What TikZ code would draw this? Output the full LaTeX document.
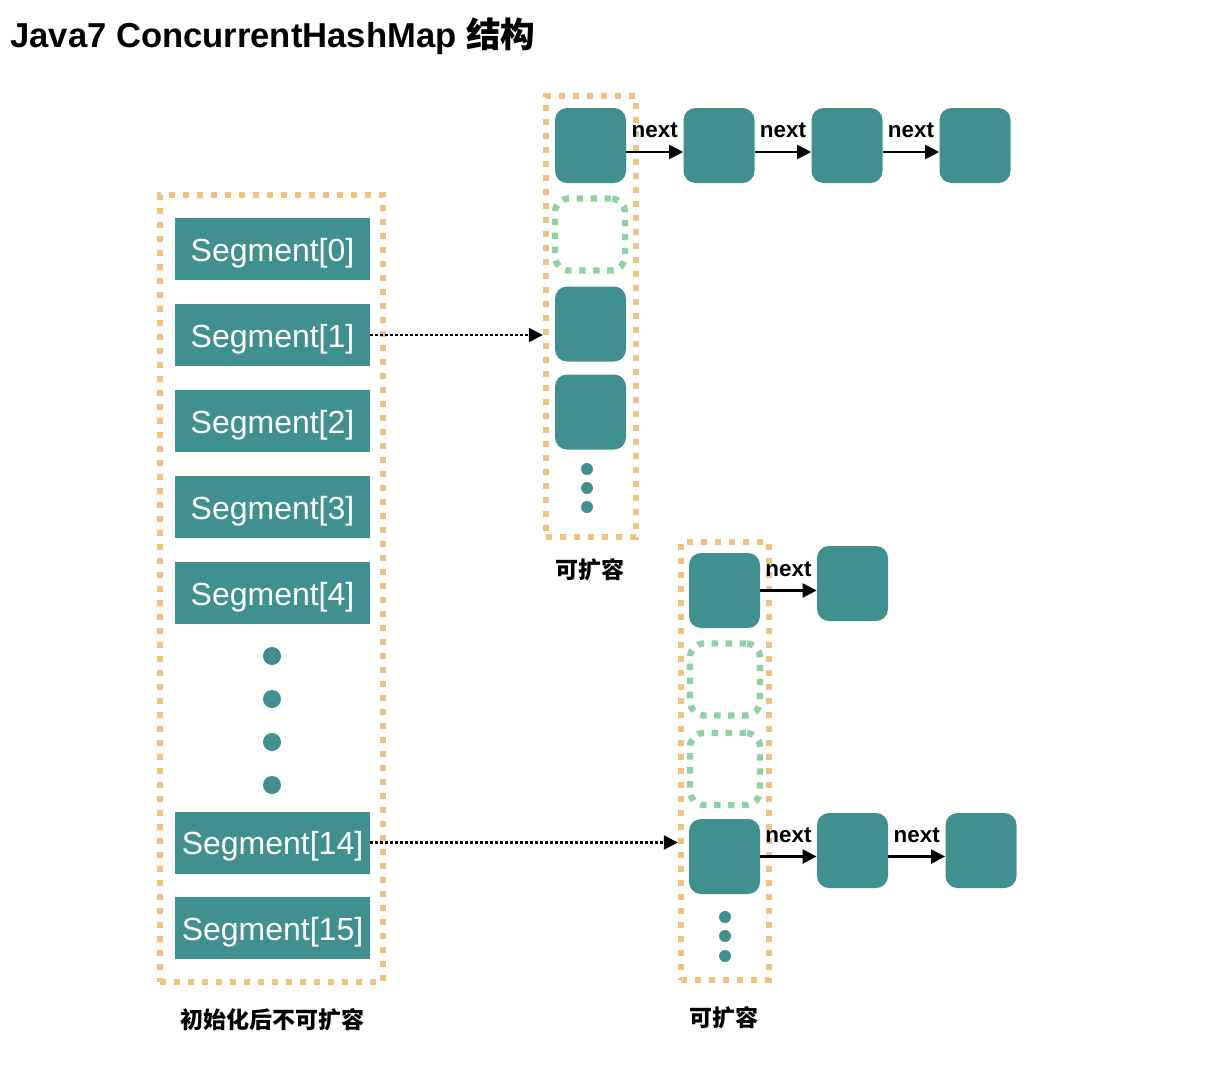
\documentclass[tikz,border=0pt]{standalone}
\usepackage{fontspec}
\setmainfont{Liberation Sans}
\newfontfamily\cjk{Noto Sans CJK SC}
\usetikzlibrary{arrows.meta}
\definecolor{segteal}{RGB}{64,144,144}
\definecolor{dotorange}{RGB}{240,194,130}
\definecolor{slotgreen}{RGB}{142,210,164}

\begin{document}
\begin{tikzpicture}[x=0.5pt,y=-0.5pt,
  seg/.style={fill=segteal, minimum width=97.5pt, minimum height=31pt, inner sep=0pt, text=white, text height=12pt, text depth=0pt, font=\fontsize{16}{16}\selectfont},
  bucket/.style={fill=segteal, rounded corners=6pt, minimum width=35.5pt, minimum height=37.5pt, inner sep=0pt},
  slot/.style={draw=slotgreen, line width=3.2pt, dash pattern=on 3.2pt off 3.8pt, rounded corners=7pt, minimum width=35pt, minimum height=36pt, inner sep=0pt},
  tablebox/.style={draw=dotorange, line width=3.2pt, dash pattern=on 3.2pt off 3.8pt, inner sep=0pt},
  bigdot/.style={circle, fill=segteal, minimum size=9pt, inner sep=0pt},
  smalldot/.style={circle, fill=segteal, minimum size=6pt, inner sep=0pt},
  nextarrow/.style={-{Triangle[length=7pt,width=7pt]}, line width=1.2pt},
  ptrarrow/.style={-{Triangle[length=7pt,width=7pt]}, line width=1.2pt, dash pattern=on 1.2pt off 1.3pt},
  nextlabel/.style={above=6.5pt, inner sep=0pt, font=\bfseries\fontsize{11.2}{11.2}\selectfont},
  cn/.style={font=\cjk\bfseries\fontsize{11.5}{11.5}\selectfont}]

\useasboundingbox (0,0) rectangle (1210,1088);

\node[anchor=base west, inner sep=0pt, font=\bfseries\fontsize{17.3}{17.3}\selectfont] (title) at (10,47) {Java7 ConcurrentHashMap {\cjk 结构}};

% segments, fixed after init
\node[tablebox, minimum width=111.5pt, minimum height=393.5pt] (segs) at (271.5,588.5) {};
\foreach \n/\y in {0/249,1/335,2/421,3/507,4/593,14/842.5,15/928}
  \node[seg] (s\n) at (272.5,\y) {Segment[\n]};
\foreach \y [count=\i] in {656,699,742,785}
  \node[bigdot] (sdot\i) at (272,\y) {};
\node[cn] (capS) at (272,1020) {初始化后不可扩容};

% table of segment 1
\node[tablebox, minimum width=45pt, minimum height=220.5pt] (tabA) at (591,316.5) {};
\node[bucket] (a0) at (590.5,145.5) {};
\node[slot] (a1) at (590,234.5) {};
\node[bucket] (a2) at (590.5,324) {};
\node[bucket] (a3) at (590.5,412) {};
\foreach \y [count=\i] in {469,488,507}
  \node[smalldot] (adot\i) at (587,\y) {};
\node[cn] (capA) at (590,570) {可扩容};
\node[bucket] (a01) at (719,145.5) {};
\node[bucket] (a02) at (847,145.5) {};
\node[bucket] (a03) at (975,145.5) {};

% table of segment 14
\node[tablebox, minimum width=44pt, minimum height=219pt] (tabB) at (725,761) {};
\node[bucket] (b0) at (724.5,590.5) {};
\node[slot] (b1) at (725,679.5) {};
\node[slot] (b2) at (725,769) {};
\node[bucket] (b3) at (724.5,856.5) {};
\foreach \y [count=\i] in {917,936,956}
  \node[smalldot] (bdot\i) at (725,\y) {};
\node[cn] (capB) at (724,1018) {可扩容};
\node[bucket] (b01) at (852.5,583.5) {};
\node[bucket] (b31) at (852.5,850.5) {};
\node[bucket] (b32) at (981,850.5) {};

% links
\draw[nextarrow] ([yshift=-3.25pt]a0.east) -- ([yshift=-3.25pt]a01.west) node[nextlabel, midway] {next};
\draw[nextarrow] ([yshift=-3.25pt]a01.east) -- ([yshift=-3.25pt]a02.west) node[nextlabel, midway] {next};
\draw[nextarrow] ([yshift=-3.25pt]a02.east) -- ([yshift=-3.25pt]a03.west) node[nextlabel, midway] {next};
\draw[nextarrow] (b0.east) -- (b0.east -| b01.west) node[nextlabel, midway] {next};
\draw[nextarrow] (b3.east) -- (b3.east -| b31.west) node[nextlabel, midway] {next};
\draw[nextarrow] (b3.east -| b31.east) -- (b3.east -| b32.west) node[nextlabel, midway] {next};

\draw[ptrarrow] (s1.east) -- (s1.east -| tabA.west);
\draw[ptrarrow] (s14.east) -- (s14.east -| tabB.west);

\end{tikzpicture}
\end{document}
